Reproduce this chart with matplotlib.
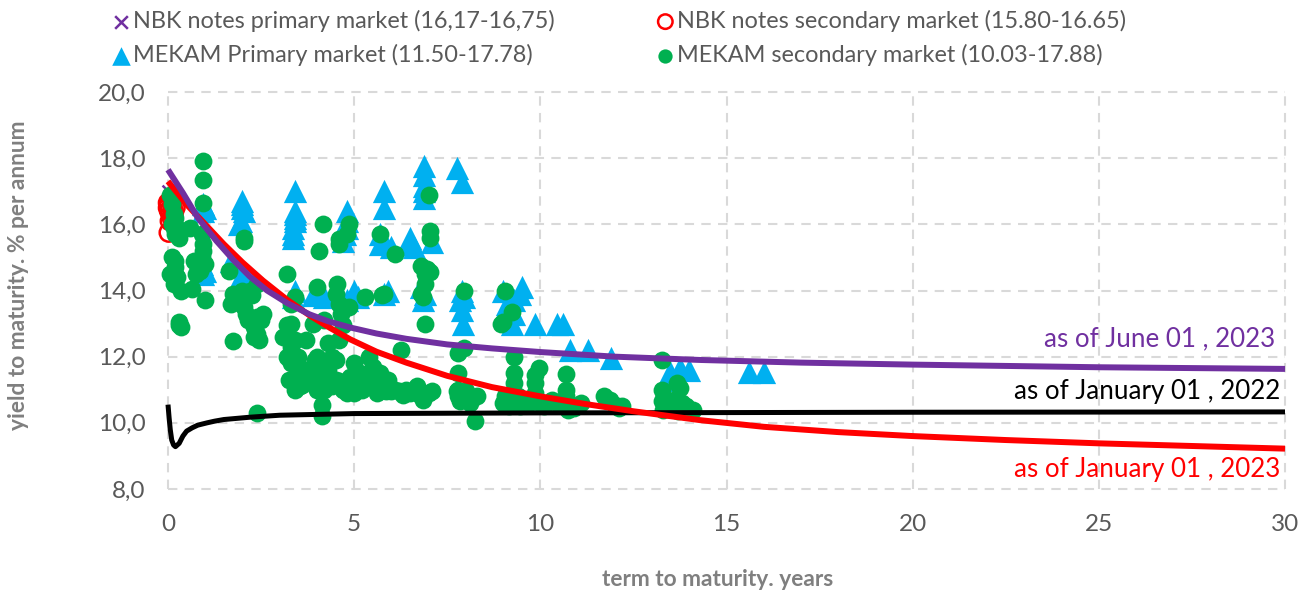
import matplotlib

matplotlib.use("Agg")

import matplotlib.pyplot as plt
from matplotlib.ticker import FuncFormatter

plt.rcParams["font.family"] = ["Lato", "DejaVu Sans"]

# values
nbk_primary_x = [0.05, 0.1, 0.05, 0.1, 0.15]
nbk_primary_y = [16.95, 16.75, 16.5, 16.3, 16.2]

nbk_secondary_x = [0.0, 0.02, 0.0, 0.05, 0.03, 0.12, 0.15, 0.2, 0.1, 0.02, 0.15, 0.05]
nbk_secondary_y = [16.65, 16.6, 16.5, 16.45, 16.4, 16.55, 16.4, 16.5, 16.2, 15.75, 16.25, 16.1]

mekam_primary_x = [
    0.95, 0.95, 1.0, 0.9, 1.0, 0.95, 2.0, 2.0, 2.0, 2.05, 1.95, 1.9, 1.7, 2.0, 2.1,
    3.4, 3.4, 3.4, 3.4, 3.4, 3.35, 3.35, 3.35, 3.4, 3.35, 4.0, 3.9, 4.2,
    4.8, 4.8, 4.8, 4.75, 4.7, 5.0, 5.1, 4.8, 5.8, 5.8, 5.7, 5.8, 5.7, 6.0, 5.9, 5.8,
    6.5, 6.5, 6.6, 6.88, 6.88, 6.88, 6.88, 6.88, 7.1, 7.76, 7.9, 6.8, 6.9, 6.85,
    7.9, 7.95, 7.85, 7.9, 7.93, 9.0, 9.1, 9.5, 9.45, 9.3, 9.3, 9.25,
    9.86, 10.45, 10.6, 10.8, 11.28, 11.9, 13.48, 13.75, 14.0, 13.5, 15.6, 16.0,
]
mekam_primary_y = [
    16.6, 16.4, 16.5, 14.8, 14.6, 14.5, 16.7, 16.6, 16.5, 16.4, 16.1, 16.0, 14.9, 14.5, 14.3,
    17.0, 16.4, 16.3, 16.2, 16.1, 15.9, 15.7, 15.6, 14.0, 13.8, 13.9, 13.85, 13.8,
    16.4, 16.1, 15.9, 15.7, 15.5, 14.0, 13.8, 13.7, 17.0, 16.5, 15.7, 15.5, 15.4, 15.3, 14.0, 13.9,
    15.6, 15.4, 15.3, 17.76, 17.5, 17.15, 17.0, 16.8, 15.47, 17.7, 17.28, 14.1, 13.9, 13.7,
    14.0, 13.8, 13.7, 13.4, 13.0, 14.0, 13.6, 14.1, 13.9, 13.7, 13.3, 13.0,
    13.0, 13.0, 13.0, 12.2, 12.2, 11.95, 11.55, 11.65, 11.6, 11.3, 11.55, 11.55,
]

mekam_secondary_x = [
    0.05, 0.1, 0.15, 0.2, 0.1, 0.15, 0.2, 0.25, 0.3, 0.1, 0.2, 0.2, 0.05, 0.2, 0.15, 0.35, 0.25,
    0.3, 0.3, 0.35, 0.95, 0.95, 0.95, 0.6, 0.9, 0.95, 0.95, 0.9, 0.7, 0.85, 0.75, 1.0, 0.65, 1.0,
    2.05, 2.05, 1.65, 1.75, 1.7, 2.0, 2.1, 2.2, 2.05, 2.4, 2.1, 2.15, 2.4, 2.35, 2.5, 2.3, 2.4, 2.3,
    1.75, 2.45, 2.4,
    3.2, 3.3, 3.4, 3.3, 3.2, 3.1, 3.4, 3.3, 3.2, 3.5, 3.7, 3.3, 3.7, 3.4, 3.25, 3.55, 3.4, 3.8,
    4.0, 3.9, 4.2, 4.0, 4.3, 4.4, 4.5, 4.2, 3.9, 4.1, 4.3, 3.9, 4.0, 4.2, 4.4, 4.5, 4.14, 4.14, 4.15, 4.05,
    4.55, 4.5, 4.6, 4.65, 4.7, 4.6, 4.6, 4.6, 4.85, 4.8, 4.85, 5.0, 4.7, 4.8, 5.0, 5.2, 5.3, 5.4,
    5.5, 5.6, 5.4, 5.7, 5.2, 5.9, 5.3, 5.8, 5.75, 5.7, 6.1, 6.25, 6.1, 6.3, 6.4, 6.5, 5.6, 5.8, 6.0,
    6.7, 6.8, 7.0, 7.1, 6.7, 6.85, 6.8, 6.85, 6.9, 6.9, 6.95, 7.05, 6.8, 6.9, 7.05, 7.05, 7.0,
    7.8, 7.95, 7.8, 7.8, 8.0, 7.75, 7.8, 7.85, 8.05, 8.3, 8.1, 8.25, 7.95, 9.05,
    9.0, 8.95, 9.25, 9.3, 9.3, 9.3, 9.05, 9.0, 9.2, 9.4, 9.6, 9.15, 9.45, 9.7,
    9.96, 9.86, 9.86, 9.85, 9.9, 10.0, 10.1, 10.3, 10.5, 10.7, 10.7, 10.7, 10.65, 11.1, 10.9, 10.75,
    11.7, 11.87, 12.2, 12.0, 12.1, 13.26, 13.26, 13.26, 13.3, 13.66, 13.75, 13.6, 13.5, 13.8, 13.9, 14.1, 13.7,
    3.6, 3.95, 4.3, 4.6, 4.9, 5.15, 5.5, 5.85, 6.2, 1.95, 2.25, 2.55,
]
mekam_secondary_y = [
    16.9, 16.6, 16.3, 16.2, 16.0, 15.9, 15.7, 15.9, 15.6, 15.0, 14.9, 14.7, 14.5, 14.5, 14.2, 14.0, 14.4,
    13.05, 12.95, 12.9, 17.9, 17.35, 16.65, 15.9, 15.7, 15.4, 15.2, 15.0, 14.9, 14.6, 14.5, 14.8, 14.05, 13.7,
    15.6, 15.5, 14.6, 13.9, 13.6, 14.0, 13.8, 14.0, 13.5, 14.2, 13.3, 13.1, 13.2, 13.0, 13.1, 12.9, 12.7, 12.6,
    12.47, 12.5, 10.3,
    14.5, 13.6, 13.8, 13.0, 12.95, 12.6, 12.5, 12.3, 12.0, 12.0, 12.5, 11.8, 11.6, 11.4, 11.3, 11.1, 11.0, 11.3,
    14.1, 13.0, 13.1, 12.0, 12.4, 12.0, 11.9, 11.8, 11.7, 11.5, 11.3, 11.2, 11.0, 11.0, 11.1, 11.3, 10.55, 10.2, 16.0, 15.2,
    14.2, 13.9, 13.6, 13.3, 12.95, 12.5, 15.4, 15.55, 16.0, 15.7, 13.5, 11.8, 11.0, 10.9, 10.9, 11.0, 11.1, 12.0,
    11.7, 11.5, 11.3, 11.5, 11.2, 11.3, 13.8, 13.9, 13.85, 15.7, 15.1, 12.2, 11.0, 10.85, 11.0, 10.9, 10.9, 11.0, 10.95,
    11.1, 10.8, 10.9, 10.95, 10.9, 10.7, 13.9, 13.8, 14.2, 14.5, 14.65, 14.55, 14.75, 13.0, 15.8, 15.6, 16.9,
    12.1, 12.25, 11.5, 11.0, 10.95, 10.95, 10.8, 10.65, 10.7, 10.8, 10.6, 10.05, 14.0, 14.0,
    13.05, 13.0, 13.35, 12.0, 11.5, 11.2, 10.8, 10.6, 10.7, 10.8, 10.7, 10.5, 10.5, 10.6,
    11.65, 11.45, 11.2, 10.9, 10.7, 10.6, 10.5, 10.7, 10.55, 11.47, 11.0, 10.8, 10.6, 10.6, 10.45, 10.4,
    10.8, 10.7, 10.5, 10.55, 10.45, 11.9, 11.0, 10.65, 10.4, 11.2, 11.05, 10.7, 10.5, 10.6, 10.5, 10.4, 10.35,
    11.15, 11.9, 11.6, 11.25, 11.4, 11.5, 11.15, 10.95, 10.95, 13.65, 13.85, 13.3,
]

june_2023_x = [0.0, 0.2, 0.4, 0.8, 1.3, 1.75, 2.2, 2.66, 3.2, 3.8, 4.3, 4.9, 5.6, 6.4, 7.5, 8.7, 10, 12, 14.3, 17, 20, 25, 30]
june_2023_y = [17.65, 17.3, 16.95, 16.2, 15.5, 14.93, 14.42, 14.0, 13.62, 13.28, 13.07, 12.88, 12.7, 12.54, 12.37, 12.25, 12.14, 12.0, 11.9, 11.82, 11.76, 11.68, 11.63]

jan_2023_x = [0.0, 0.25, 0.5, 1.0, 1.5, 2.0, 2.55, 3.2, 3.8, 4.35, 4.9, 5.6, 6.4, 7.5, 8.7, 10, 11.2, 12.5, 14.3, 16, 18, 20, 22.5, 25, 27.5, 30]
jan_2023_y = [17.3, 16.95, 16.6, 16.0, 15.4, 14.85, 14.3, 13.72, 13.25, 12.87, 12.52, 12.15, 11.82, 11.42, 11.08, 10.8, 10.57, 10.35, 10.08, 9.88, 9.72, 9.6, 9.48, 9.38, 9.3, 9.22]

jan_2022_x = [0.0, 0.03, 0.06, 0.1, 0.15, 0.2, 0.3, 0.4, 0.5, 0.65, 0.8, 1.05, 1.25, 1.5, 2.2, 3.0, 5.0, 10, 20, 30]
jan_2022_y = [10.55, 10.15, 9.8, 9.48, 9.33, 9.28, 9.38, 9.6, 9.75, 9.85, 9.93, 10.0, 10.05, 10.1, 10.17, 10.23, 10.28, 10.3, 10.32, 10.33]

x_ticks = [0, 5, 10, 15, 20, 25, 30]
y_ticks = [8, 10, 12, 14, 16, 18, 20]

GREY = "#595959"
PURPLE = "#7030A0"
RED = "#FF0000"
BLUE = "#00B0F0"
GREEN = "#00B050"

fig = plt.figure(figsize=(13.12, 5.96), dpi=100)
ax = fig.add_axes([168 / 1312, 1 - 489 / 596, (1285 - 168) / 1312, (489 - 92) / 596])

ax.scatter(nbk_primary_x, nbk_primary_y, marker="x", s=130, color=PURPLE, linewidths=1.8,
           clip_on=False, zorder=3, label="NBK notes primary market (16,17-16,75)")
ax.scatter(mekam_primary_x, mekam_primary_y, marker="^", s=280, color=BLUE, linewidths=0,
           clip_on=False, zorder=3, label="MEKAM Primary market (11.50-17.78)")
ax.scatter(nbk_secondary_x, nbk_secondary_y, marker="o", s=170, facecolors="none", edgecolors=RED,
           linewidths=1.8, clip_on=False, zorder=3, label="NBK notes secondary market (15.80-16.65)")
ax.scatter(mekam_secondary_x, mekam_secondary_y, marker="o", s=165, color=GREEN, linewidths=0,
           clip_on=False, zorder=4, label="MEKAM secondary market (10.03-17.88)")

ax.plot(jan_2022_x, jan_2022_y, color="black", lw=3.6, zorder=5, clip_on=False, solid_capstyle="butt")
ax.plot(jan_2023_x, jan_2023_y, color=RED, lw=4.3, zorder=6, clip_on=False, solid_capstyle="butt")
ax.plot(june_2023_x, june_2023_y, color=PURPLE, lw=4.3, zorder=7, clip_on=False, solid_capstyle="butt")

ax.set_xlim(0, 30)
ax.set_ylim(8, 20)
ax.set_xticks(x_ticks)
ax.set_yticks(y_ticks)
ax.yaxis.set_major_formatter(FuncFormatter(lambda v, _: f"{v:.1f}".replace(".", ",")))
ax.tick_params(length=0, labelsize=17.5, labelcolor=GREY)
ax.tick_params(axis="x", pad=18)
ax.tick_params(axis="y", pad=16)
ax.grid(True, color="#D9D9D9", lw=1.5, ls=(0, (4.5, 3.5)), clip_on=False)
ax.set_axisbelow(True)
for side in ax.spines:
    ax.spines[side].set_visible(False)

fig.text(1275 / 1312, 1 - 339 / 596, "as of June 01 , 2023", color=PURPLE, fontsize=18.7, ha="right", va="center")
fig.text(1280 / 1312, 1 - 391 / 596, "as of January 01 , 2022", color="black", fontsize=18.7, ha="right", va="center")
fig.text(1280 / 1312, 1 - 469 / 596, "as of January 01 , 2023", color=RED, fontsize=18.7, ha="right", va="center")

fig.text(19 / 1312, 1 - 275 / 596, "yield to maturity. % per annum", color="#7F7F7F", fontsize=16.4,
         fontweight="bold", rotation=90, ha="center", va="center")
fig.text(718 / 1312, 1 - 580 / 596, "term to maturity. years", color="#7F7F7F", fontsize=16.4,
         fontweight="bold", ha="center", va="center")

fig.legend(loc="upper left", bbox_to_anchor=(93 / 1312, 1 - 5 / 596), ncols=2, frameon=False, fontsize=16.9,
           labelcolor=GREY, handletextpad=-0.5, columnspacing=3.72, labelspacing=0.53, markerscale=0.8,
           borderaxespad=0, borderpad=0.2, scatterpoints=1)

fig.savefig("out.png", dpi=100)
